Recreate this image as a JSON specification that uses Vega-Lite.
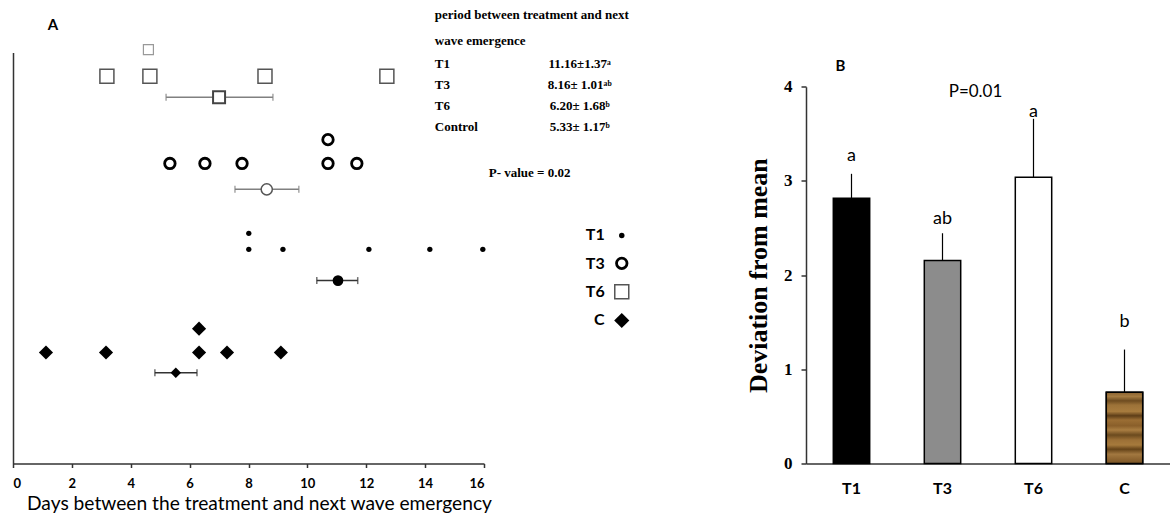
{
  "$schema": "https://vega.github.io/schema/vega-lite/v6.json",
  "padding": {"left": 12, "top": 8.5, "right": 0, "bottom": 0},
  "bounds": "flush",
  "spacing": 322,
  "config": {
    "view": {"stroke": null},
    "axis": {"grid": false},
    "point": {"opacity": 1}
  },
  "datasets": {
    "obs": [
      {"group": "T6", "days": 3.19, "level": 94.2, "stack": 1},
      {"group": "T6", "days": 4.65, "level": 94.2, "stack": 1},
      {"group": "T6", "days": 8.56, "level": 94.2, "stack": 1},
      {"group": "T6", "days": 12.7, "level": 94.2, "stack": 1},
      {"group": "T6", "days": 4.6, "level": 100.7, "stack": 2},
      {"group": "T3", "days": 5.33, "level": 73.0, "stack": 1},
      {"group": "T3", "days": 6.52, "level": 73.0, "stack": 1},
      {"group": "T3", "days": 7.78, "level": 73.0, "stack": 1},
      {"group": "T3", "days": 10.7, "level": 73.0, "stack": 1},
      {"group": "T3", "days": 11.68, "level": 73.0, "stack": 1},
      {"group": "T3", "days": 10.7, "level": 78.8, "stack": 2},
      {"group": "T1", "days": 8.01, "level": 52.1, "stack": 1},
      {"group": "T1", "days": 9.17, "level": 52.1, "stack": 1},
      {"group": "T1", "days": 12.09, "level": 52.1, "stack": 1},
      {"group": "T1", "days": 14.16, "level": 52.1, "stack": 1},
      {"group": "T1", "days": 15.96, "level": 52.1, "stack": 1},
      {"group": "T1", "days": 8.01, "level": 56.0, "stack": 2},
      {"group": "C", "days": 1.12, "level": 27.0, "stack": 1},
      {"group": "C", "days": 3.16, "level": 27.0, "stack": 1},
      {"group": "C", "days": 6.32, "level": 27.0, "stack": 1},
      {"group": "C", "days": 7.27, "level": 27.0, "stack": 1},
      {"group": "C", "days": 9.1, "level": 27.0, "stack": 1},
      {"group": "C", "days": 6.32, "level": 32.8, "stack": 2}
    ],
    "means": [
      {"group": "T6", "days": 7.0, "lo": 5.2, "hi": 8.83, "level": 89.1},
      {"group": "T3", "days": 8.62, "lo": 7.54, "hi": 9.71, "level": 66.7},
      {"group": "T1", "days": 11.04, "lo": 10.32, "hi": 11.71, "level": 44.5},
      {"group": "C", "days": 5.53, "lo": 4.82, "hi": 6.25, "level": 22.1}
    ],
    "bars": [
      {"group": "T1", "mean": 2.817, "hi": 3.076, "letter": "a", "letter_y": 3.26},
      {"group": "T3", "mean": 2.156, "hi": 2.445, "letter": "ab", "letter_y": 2.6},
      {"group": "T6", "mean": 3.04, "hi": 3.66, "letter": "a", "letter_y": 3.73},
      {"group": "C", "mean": 0.757, "hi": 1.21, "letter": "b", "letter_y": 1.5}
    ]
  },
  "hconcat": [
    {
      "width": 471,
      "height": 411,
      "layer": [
        {
          "data": {"name": "means"},
          "mark": {"type": "rule", "strokeWidth": 1.5},
          "encoding": {
            "x": {"field": "lo", "type": "quantitative", "scale": {"domain": [0, 16], "nice": false, "zero": false}, "title": "Days between the treatment and next wave emergency",
              "axis": {"values": [0, 2, 4, 6, 8, 10, 12, 14, 16], "tickSize": 4, "tickColor": "#333", "tickWidth": 1.5, "domainColor": "#333", "domainWidth": 1.5, "labelFont": "Lato", "labelFontWeight": "bold", "labelFontSize": 13, "labelColor": "#000", "labelPadding": 10, "titleFont": "Lato", "titleFontSize": 19.2, "titleFontWeight": "normal", "titleColor": "#000", "titlePadding": 4, "titleX": 246}},
            "x2": {"field": "hi"},
            "y": {"field": "level", "type": "quantitative", "scale": {"domain": [0, 100], "nice": false, "zero": false}, "title": null,
              "axis": {"labels": false, "ticks": false, "domainColor": "#333", "domainWidth": 1.5}},
            "color": {"field": "group", "type": "nominal", "scale": {"domain": ["T6", "T3", "T1", "C"], "range": ["#808080", "#808080", "#333333", "#333333"]}, "legend": null}
          }
        },
        {
          "data": {"name": "means"},
          "transform": [{"fold": ["lo", "hi"], "as": ["end", "val"]}],
          "mark": {"type": "tick", "orient": "vertical", "size": 7, "thickness": 1.5},
          "encoding": {
            "x": {"field": "val", "type": "quantitative", "title": "Days between the treatment and next wave emergency"},
            "y": {"field": "level", "type": "quantitative", "title": null},
            "color": {"field": "group", "type": "nominal", "legend": null}
          }
        },
        {
          "data": {"name": "obs"},
          "transform": [{"filter": "datum.group === 'T6' && datum.stack === 1"}],
          "mark": {"type": "point", "shape": "square", "filled": false, "color": "#555555", "strokeWidth": 1.5, "size": 196},
          "encoding": {
            "x": {"field": "days", "type": "quantitative", "title": "Days between the treatment and next wave emergency"},
            "y": {"field": "level", "type": "quantitative", "title": null}
          }
        },
        {
          "data": {"name": "obs"},
          "transform": [{"filter": "datum.group === 'T6' && datum.stack === 2"}],
          "mark": {"type": "point", "shape": "square", "filled": false, "color": "#999999", "strokeWidth": 1.2, "size": 100},
          "encoding": {
            "x": {"field": "days", "type": "quantitative", "title": "Days between the treatment and next wave emergency"},
            "y": {"field": "level", "type": "quantitative", "title": null}
          }
        },
        {
          "data": {"name": "obs"},
          "transform": [{"filter": "datum.group === 'T3'"}],
          "mark": {"type": "point", "shape": "circle", "filled": false, "color": "#000000", "strokeWidth": 2.8, "size": 110},
          "encoding": {
            "x": {"field": "days", "type": "quantitative", "title": "Days between the treatment and next wave emergency"},
            "y": {"field": "level", "type": "quantitative", "title": null}
          }
        },
        {
          "data": {"name": "obs"},
          "transform": [{"filter": "datum.group === 'T1'"}],
          "mark": {"type": "point", "shape": "circle", "filled": true, "color": "#000000", "size": 28},
          "encoding": {
            "x": {"field": "days", "type": "quantitative", "title": "Days between the treatment and next wave emergency"},
            "y": {"field": "level", "type": "quantitative", "title": null}
          }
        },
        {
          "data": {"name": "obs"},
          "transform": [{"filter": "datum.group === 'C'"}],
          "mark": {"type": "point", "shape": "diamond", "filled": true, "color": "#000000", "size": 200},
          "encoding": {
            "x": {"field": "days", "type": "quantitative", "title": "Days between the treatment and next wave emergency"},
            "y": {"field": "level", "type": "quantitative", "title": null}
          }
        },
        {
          "data": {"name": "means"},
          "transform": [{"filter": "datum.group === 'T6'"}],
          "mark": {"type": "point", "shape": "square", "filled": true, "fill": "#ffffff", "stroke": "#444444", "strokeWidth": 2, "size": 144},
          "encoding": {
            "x": {"field": "days", "type": "quantitative", "title": "Days between the treatment and next wave emergency"},
            "y": {"field": "level", "type": "quantitative", "title": null}
          }
        },
        {
          "data": {"name": "means"},
          "transform": [{"filter": "datum.group === 'T3'"}],
          "mark": {"type": "point", "shape": "circle", "filled": true, "fill": "#ffffff", "stroke": "#555555", "strokeWidth": 1.5, "size": 125},
          "encoding": {
            "x": {"field": "days", "type": "quantitative", "title": "Days between the treatment and next wave emergency"},
            "y": {"field": "level", "type": "quantitative", "title": null}
          }
        },
        {
          "data": {"name": "means"},
          "transform": [{"filter": "datum.group === 'T1'"}],
          "mark": {"type": "point", "shape": "circle", "filled": true, "color": "#000000", "size": 115},
          "encoding": {
            "x": {"field": "days", "type": "quantitative", "title": "Days between the treatment and next wave emergency"},
            "y": {"field": "level", "type": "quantitative", "title": null}
          }
        },
        {
          "data": {"name": "means"},
          "transform": [{"filter": "datum.group === 'C'"}],
          "mark": {"type": "point", "shape": "diamond", "filled": true, "color": "#000000", "size": 110},
          "encoding": {
            "x": {"field": "days", "type": "quantitative", "title": "Days between the treatment and next wave emergency"},
            "y": {"field": "level", "type": "quantitative", "title": null}
          }
        },
        {
          "data": {"values": [{}]},
          "mark": {"type": "text", "text": "A", "font": "Lato", "fontWeight": "bold", "fontSize": 15, "align": "center", "baseline": "middle", "color": "#000"},
          "encoding": {"x": {"datum": 1.36}, "y": {"datum": 106.8}}
        },
        {
          "data": {"values": [{}]},
          "mark": {"type": "text", "text": ["period between treatment and next", "wave emergence"], "lineHeight": 26, "font": "Liberation Serif", "fontWeight": "bold", "fontSize": 13, "align": "left", "baseline": "middle", "color": "#000"},
          "encoding": {"x": {"datum": 14.33}, "y": {"datum": 109.2}}
        },
        {
          "data": {"values": [{}]},
          "mark": {"type": "text", "text": ["T1", "T3", "T6", "Control"], "lineHeight": 21, "font": "Liberation Serif", "fontWeight": "bold", "fontSize": 13, "align": "left", "baseline": "middle", "color": "#000"},
          "encoding": {"x": {"datum": 14.33}, "y": {"datum": 97.3}}
        },
        {
          "data": {"values": [{}]},
          "mark": {"type": "text", "text": ["11.16±1.37ᵃ", "8.16± 1.01ᵃᵇ", "6.20± 1.68ᵇ", "5.33± 1.17ᵇ"], "lineHeight": 21, "font": "Liberation Serif", "fontWeight": "bold", "fontSize": 13, "align": "center", "baseline": "middle", "color": "#000"},
          "encoding": {"x": {"datum": 19.25}, "y": {"datum": 97.3}}
        },
        {
          "data": {"values": [{}]},
          "mark": {"type": "text", "text": "P- value = 0.02", "font": "Liberation Serif", "fontWeight": "bold", "fontSize": 13, "align": "center", "baseline": "middle", "color": "#000"},
          "encoding": {"x": {"datum": 17.55}, "y": {"datum": 70.8}}
        },
        {
          "data": {"values": [{}]},
          "mark": {"type": "text", "text": ["T1", "T3", "T6", "C"], "lineHeight": 28.3, "font": "Lato", "fontWeight": "bold", "fontSize": 16, "align": "right", "baseline": "middle", "color": "#000"},
          "encoding": {"x": {"datum": 20.1}, "y": {"datum": 55.5}}
        },
        {
          "data": {"values": [{}]},
          "mark": {"type": "point", "shape": "circle", "filled": true, "color": "#000", "size": 30},
          "encoding": {"x": {"datum": 20.68}, "y": {"datum": 55.5}}
        },
        {
          "data": {"values": [{}]},
          "mark": {"type": "point", "shape": "circle", "filled": false, "color": "#000", "strokeWidth": 2.8, "size": 110},
          "encoding": {"x": {"datum": 20.68}, "y": {"datum": 48.7}}
        },
        {
          "data": {"values": [{}]},
          "mark": {"type": "point", "shape": "square", "filled": false, "color": "#555", "strokeWidth": 1.5, "size": 196},
          "encoding": {"x": {"datum": 20.68}, "y": {"datum": 41.8}}
        },
        {
          "data": {"values": [{}]},
          "mark": {"type": "point", "shape": "diamond", "filled": true, "color": "#000", "size": 230},
          "encoding": {"x": {"datum": 20.68}, "y": {"datum": 34.8}}
        }
      ]
    },
    {
      "width": 364,
      "height": 411,
      "data": {"name": "bars"},
      "encoding": {
        "x": {"field": "group", "type": "nominal", "sort": ["T1", "T3", "T6", "C"], "title": null,
          "scale": {"paddingInner": 0.6, "paddingOuter": 0.3},
          "axis": {"labelAngle": 0, "ticks": false, "labelFont": "Lato", "labelFontWeight": "bold", "labelFontSize": 16, "labelColor": "#000", "labelPadding": 17, "domainColor": "#333", "domainWidth": 1.5}}
      },
      "layer": [
        {
          "mark": {"type": "rule", "color": "#000", "strokeWidth": 1.2},
          "encoding": {
            "y": {"field": "mean", "type": "quantitative", "title": "Deviation from mean", "scale": {"domain": [0, 4], "range": [411, 34.3], "nice": false},
              "axis": {"values": [0, 1, 2, 3, 4], "format": "d", "tickSize": 5, "tickColor": "#333", "tickWidth": 1.5, "domainColor": "#333", "domainWidth": 1.5, "labelFont": "Liberation Serif", "labelFontWeight": "bold", "labelFontSize": 17, "labelColor": "#000", "labelPadding": 9, "titleFont": "Liberation Serif", "titleFontWeight": "bold", "titleFontSize": 26, "titleColor": "#000", "titlePadding": 12}},
            "y2": {"field": "hi"}
          }
        },
        {
          "mark": {"type": "bar", "stroke": "#000", "strokeWidth": 1.5},
          "encoding": {
            "y": {"field": "mean", "type": "quantitative", "title": "Deviation from mean"},
            "fill": {"field": "group", "type": "nominal", "scale": {"domain": ["T1", "T3", "T6", "C"], "range": ["#000000", "#8c8c8c", "#ffffff", "#8b5e2b"]}, "legend": null}
          }
        },
        {
          "transform": [{"filter": "datum.group === 'C'"}],
          "mark": {"type": "bar", "stroke": "#000", "strokeWidth": 1.5,
            "fill": {"gradient": "linear", "x1": 0, "y1": 0, "x2": 0, "y2": 1, "stops": [
              {"offset": 0, "color": "#8a6332"}, {"offset": 0.06, "color": "#a57b40"}, {"offset": 0.12, "color": "#6e4c20"},
              {"offset": 0.18, "color": "#9c7238"}, {"offset": 0.27, "color": "#a87c3e"}, {"offset": 0.33, "color": "#5e3e18"},
              {"offset": 0.39, "color": "#9b6e34"}, {"offset": 0.47, "color": "#8a5f2a"}, {"offset": 0.53, "color": "#aa7e42"},
              {"offset": 0.6, "color": "#6b4a1e"}, {"offset": 0.67, "color": "#9c7036"}, {"offset": 0.74, "color": "#a67a3c"},
              {"offset": 0.8, "color": "#654318"}, {"offset": 0.87, "color": "#a27840"}, {"offset": 0.94, "color": "#8d6430"},
              {"offset": 1, "color": "#7a5526"}]}},
          "encoding": {
            "y": {"field": "mean", "type": "quantitative", "title": "Deviation from mean"}
          }
        },
        {
          "mark": {"type": "text", "font": "Lato", "fontSize": 18, "color": "#000", "baseline": "middle"},
          "encoding": {
            "y": {"field": "letter_y", "type": "quantitative", "title": "Deviation from mean"},
            "text": {"field": "letter"}
          }
        },
        {
          "data": {"values": [{}]},
          "mark": {"type": "text", "text": "P=0.01", "font": "Lato", "fontSize": 17, "color": "#000", "baseline": "middle", "dx": 33},
          "encoding": {"x": {"datum": "T3"}, "y": {"datum": 3.94}}
        },
        {
          "data": {"values": [{}]},
          "mark": {"type": "text", "text": "B", "font": "Lato", "fontWeight": "bold", "fontSize": 15, "color": "#000", "baseline": "middle", "dx": -11},
          "encoding": {"x": {"datum": "T1"}, "y": {"datum": 4.216}}
        }
      ]
    }
  ]
}
